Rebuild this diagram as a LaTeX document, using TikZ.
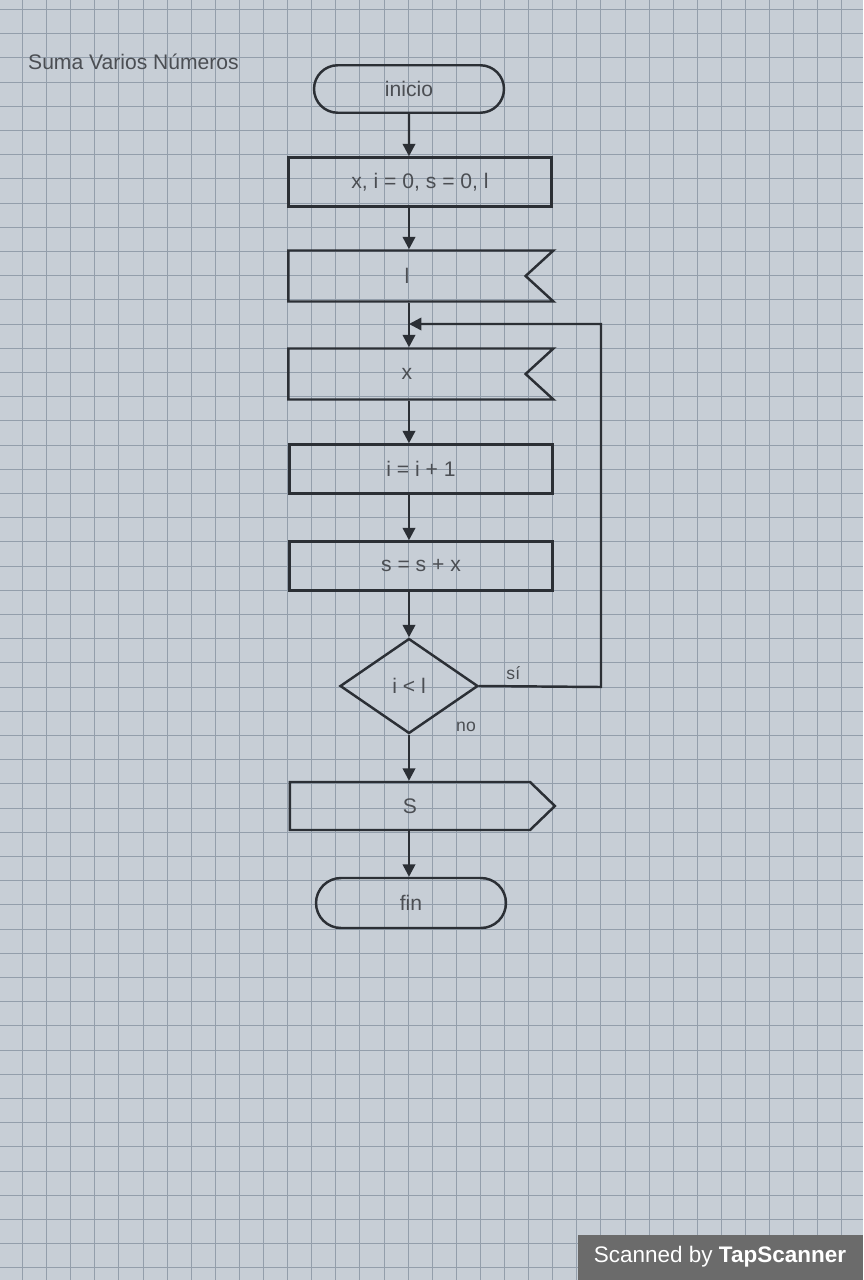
\documentclass[tikz,border=0pt]{standalone}
\usepackage{fontspec}
\setmainfont{Liberation Sans}
\usetikzlibrary{shapes.geometric, shapes.misc, shapes.symbols, arrows.meta, positioning}
\definecolor{paper}{HTML}{C7CED6}
\definecolor{gridblue}{HTML}{939EAB}
\definecolor{pencil}{HTML}{2B2F35}
\definecolor{badge}{HTML}{6B6B6B}

\begin{document}
\begin{tikzpicture}[
  x=0.02cm, y=-0.02cm,
  every node/.style={font=\large, text=pencil!85},
  line/.style={draw=pencil, line width=1.4pt},
  flow/.style={line, -{Triangle[width=7pt,length=7pt]}},
  terminal/.style={line, rounded rectangle, minimum width=3.8cm, minimum height=0.95cm, inner sep=0pt},
  process/.style={line, rectangle, minimum width=5.26cm, minimum height=0.98cm, inner sep=0pt},
  readbox/.style={line, signal, signal to=nowhere, signal from=east, signal pointer angle=85, minimum width=5.3cm, minimum height=1.02cm, inner sep=0pt},
  writebox/.style={line, signal, signal to=east, signal pointer angle=88, minimum width=5.3cm, minimum height=0.96cm, inner sep=0pt},
  decision/.style={line, diamond, minimum width=2.76cm, minimum height=1.9cm, inner sep=0pt},
  gridline/.style={draw=gridblue, line width=0.5pt}
]
% paper and grid
\fill[paper] (0,0) rectangle (863,1280);
\useasboundingbox (0,0) rectangle (863,1280);
\foreach \k in {-1,...,35} \draw[gridline] (22.5+24.1*\k,0) -- (22.5+24.1*\k,1280);
\foreach \k in {0,...,52} \draw[gridline] (0,9.4+24.2*\k) -- (863,9.4+24.2*\k);

\node[anchor=west] (title) at (22,62) {Suma Varios Números};

% flowchart
\node[terminal] (inicio) at (409,89) {inicio};
\node[process] (setup) at (420,182) {x, i = 0, s = 0, l};
\node[readbox] (readl) at (407,276) {l};
\node[readbox] (readx) at (407,374) {x};
\node[process] (incr) at (421,469) {i = i + 1};
\node[process] (accum) at (421,566) {s = s + x};
\node[decision] (cond) at (409,686) {i < l};
\node[writebox] (write) at (410,806) {S};
\node[terminal, minimum height=1cm] (fin) at (411,903) {fin};

\draw[flow] (inicio) -- (inicio |- setup.north);
\draw[flow] (inicio |- setup.south) -- (inicio |- readl.north);
\draw[flow] (inicio |- readl.south) -- (inicio |- readx.north);
\draw[flow] (inicio |- readx.south) -- (inicio |- incr.north);
\draw[flow] (inicio |- incr.south) -- (inicio |- accum.north);
\draw[flow] (inicio |- accum.south) -- (cond.north);
\draw[flow] (cond.south) -- (cond |- write.north);
\draw[flow] (cond |- write.south) -- (cond |- fin.north);

% loop back
\coordinate (loopright) at (601,687);
\coordinate (looptop) at (601,324);
\draw[flow] (cond.east) -- node[pos=0.28, above, font=\normalsize] (si) {sí} (loopright) -- (looptop) -- (inicio |- looptop);
\node[font=\normalsize] (no) at (466,727) {no};

% scanner badge
\fill[badge] (578,1235) rectangle (863,1280);
\node[text=white, font=\fontsize{12.8}{15}\selectfont] (badge) at (720,1257) {Scanned by \textbf{TapScanner}};
\end{tikzpicture}
\end{document}
